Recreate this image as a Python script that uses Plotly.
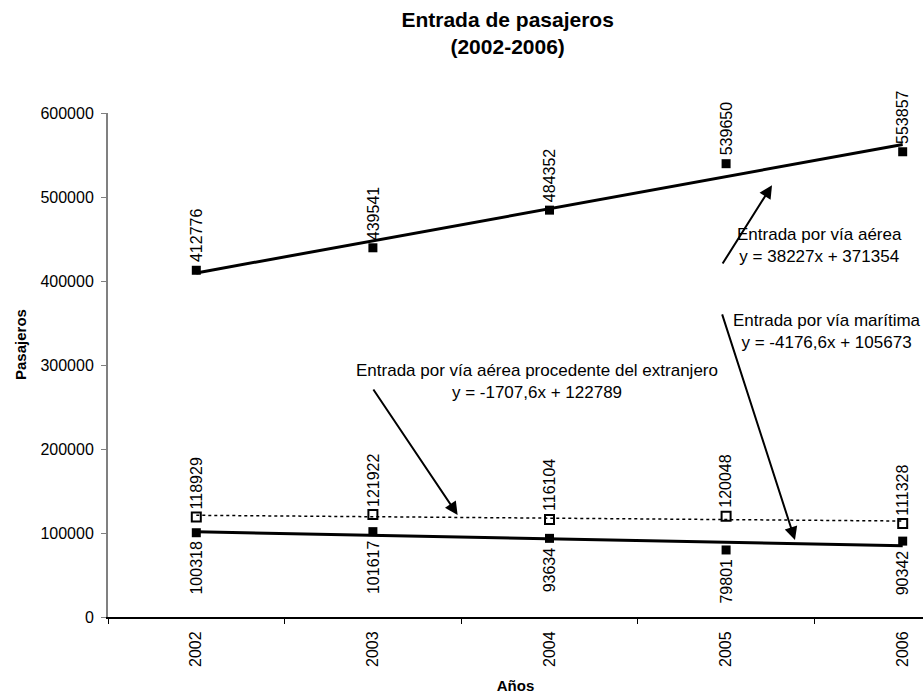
import numpy as np
import plotly.graph_objects as go

years = ['2002', '2003', '2004', '2005', '2006']
aerea = [412776, 439541, 484352, 539650, 553857]
maritima = [100318, 101617, 93634, 79801, 90342]
extranjero = [118929, 121922, 116104, 120048, 111328]

eq_aerea = 'Entrada por vía aérea<br>y = 38227x + 371354'
eq_maritima = 'Entrada por vía marítima<br>y = -4176,6x + 105673'
eq_extranjero = 'Entrada por vía aérea procedente del extranjero<br>y = -1707,6x + 122789'

FONT = 'Arial, Liberation Sans, sans-serif'

# linear trend lines (Excel style, x = 1..n)
xs = np.arange(1, len(years) + 1)


def trend(vals):
    m, b = np.polyfit(xs, vals, 1)
    return m * xs + b


fig = go.Figure()

fig.add_trace(go.Scatter(x=years, y=trend(aerea), mode='lines',
                         line=dict(color='black', width=3), hoverinfo='skip'))
fig.add_trace(go.Scatter(x=years, y=trend(maritima), mode='lines',
                         line=dict(color='black', width=3), hoverinfo='skip'))
fig.add_trace(go.Scatter(x=years, y=trend(extranjero), mode='lines',
                         line=dict(color='black', width=1.5, dash='dot'), hoverinfo='skip'))

fig.add_trace(go.Scatter(x=years, y=aerea, mode='markers', name='Entrada por vía aérea',
                         marker=dict(symbol='square', size=9, color='black')))
fig.add_trace(go.Scatter(x=years, y=maritima, mode='markers', name='Entrada por vía marítima',
                         marker=dict(symbol='square', size=9, color='black')))
fig.add_trace(go.Scatter(x=years, y=extranjero, mode='markers',
                         name='Entrada por vía aérea procedente del extranjero',
                         marker=dict(symbol='square-open', size=9, color='black',
                                     line=dict(width=2))))

annotations = []
# value labels, rotated (x given as category index)
for vals, above in [(aerea, True), (extranjero, True), (maritima, False)]:
    for i, v in enumerate(vals):
        annotations.append(dict(x=i, y=v, text=str(v), textangle=-90, showarrow=False,
                                xanchor='center', yanchor='bottom' if above else 'top',
                                yshift=6 if above else -7,
                                font=dict(size=16, color='black', family=FONT)))

# trend line labels
annotations += [
    dict(x=3.53, y=442000, text=eq_aerea, showarrow=False, xanchor='center',
         font=dict(size=17, color='black', family=FONT)),
    dict(x=3.57, y=340000, text=eq_maritima, showarrow=False, xanchor='center',
         font=dict(size=17, color='black', family=FONT)),
    dict(x=1.93, y=280000, text=eq_extranjero, showarrow=False, xanchor='center',
         font=dict(size=17, color='black', family=FONT)),
]

# arrows
for (tx, ty), (hx, hy) in [((2.975, 419000), (3.26, 514000)),
                           ((2.975, 362000), (3.39, 91700)),
                           ((0.997, 272600), (1.48, 121400))]:
    annotations.append(dict(x=hx, y=hy, ax=tx, ay=ty, axref='x', ayref='y',
                            xref='x', yref='y', text='', showarrow=True,
                            arrowhead=2, arrowsize=1.3, arrowwidth=2, arrowcolor='black'))

# y axis title, placed a little above the axis centre as in the original
annotations.append(dict(x=-0.108, xref='paper', y=325000, yref='y', text='<b>Pasajeros</b>',
                        textangle=-90, showarrow=False, xanchor='center', yanchor='middle',
                        font=dict(size=15, color='black', family=FONT)))

fig.update_layout(
    width=923, height=694,
    margin=dict(l=108, r=0, t=113, b=77),
    paper_bgcolor='white', plot_bgcolor='white',
    showlegend=False,
    font=dict(family=FONT, color='black'),
    title=dict(text='<b>Entrada de pasajeros<br>(2002-2006)</b>', x=0.55, xanchor='center',
               yref='container', y=1 - 27 / 694, yanchor='middle',
               font=dict(size=21, color='black', family=FONT)),
    xaxis=dict(type='category', range=[-0.5, 4.115], showgrid=False, zeroline=False,
               showline=True, linecolor='black', linewidth=2,
               ticks='outside', ticklen=5, tickcolor='black', tickson='boundaries',
               tickangle=-90, tickfont=dict(size=16), ticklabelstandoff=6,
               title=dict(text='<b>Años</b>', font=dict(size=15), standoff=15)),
    yaxis=dict(range=[0, 600000], dtick=100000, tickformat='d', showgrid=False,
               zeroline=False, showline=True, linecolor='#808080', linewidth=2,
               ticks='outside', ticklen=5, tickcolor='#808080',
               tickfont=dict(size=16), ticklabelstandoff=4),
    annotations=annotations,
)

fig.write_html('out.html', config={'displayModeBar': False},
               post_script="document.body.style.margin='0';")
